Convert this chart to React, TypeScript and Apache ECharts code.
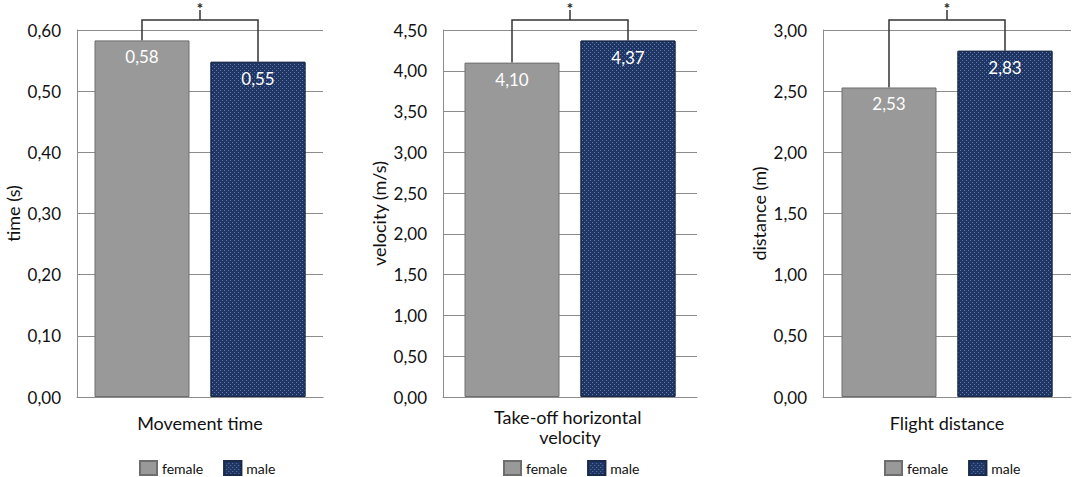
import React, { useEffect, useRef } from "react";
import * as echarts from "echarts";

const categories = ["Movement time", "Take-off horizontal velocity", "Flight distance"];
const axisNames = ["time (s)", "velocity (m/s)", "distance (m)"];
const femaleValues = [0.583, 4.1, 2.53];
const maleValues = [0.548, 4.37, 2.83];
const yMax = [0.6, 4.5, 3.0];
const yInterval = [0.1, 0.5, 0.5];
const significance = ["*", "*", "*"];

const FONT = "Lato";
const gridLefts = [77, 443, 823];
const gridWidths = [246, 254, 248];
const legendLefts = [139, 503, 884];
const catMargins = [16, 10, 16];
const BAR_W = 95;
const BAR_GAP = 21;

const fmt = (v: number) => v.toFixed(2).replace(".", ",");

export default function App() {
  const ref = useRef<HTMLDivElement>(null);
  useEffect(() => {
    const chart = echarts.init(ref.current!, undefined, { renderer: "svg" });
    const grids: any[] = [];
    const xAxes: any[] = [];
    const yAxes: any[] = [];
    const series: any[] = [];
    const legends: any[] = [];
    for (let i = 0; i < 3; i++) {
      grids.push({ left: gridLefts[i], width: gridWidths[i], top: 30, height: 367 });
      xAxes.push({
        type: "category",
        gridIndex: i,
        data: [categories[i]],
        axisLine: { lineStyle: { color: "#8c8c8c", width: 1 } },
        axisTick: { show: false },
        axisLabel: {
          fontFamily: FONT,
          fontSize: 18,
          color: "#111",
          margin: catMargins[i],
          width: 180,
          overflow: "break",
          lineHeight: 20,
        },
      });
      yAxes.push({
        type: "value",
        gridIndex: i,
        min: 0,
        max: yMax[i],
        interval: yInterval[i],
        name: axisNames[i],
        nameLocation: "middle",
        nameRotate: 90,
        nameGap: 55,
        nameTextStyle: { fontFamily: FONT, fontSize: 18, color: "#111" },
        axisLine: { show: true, lineStyle: { color: "#8c8c8c", width: 1 } },
        axisTick: { show: false },
        splitLine: { lineStyle: { color: "#8c8c8c", width: 1 } },
        axisLabel: {
          fontFamily: FONT,
          fontSize: 17,
          color: "#111",
          margin: 16,
          formatter: (v: number) => fmt(v),
        },
      });
      const label = {
        show: true,
        position: "insideTop",
        distance: 8,
        color: "#fff",
        fontFamily: FONT,
        fontSize: 17,
        formatter: (p: any) => fmt(p.value),
      };
      series.push({
        name: "female",
        type: "bar",
        xAxisIndex: i,
        yAxisIndex: i,
        data: [femaleValues[i]],
        barWidth: BAR_W,
        barGap: ((BAR_GAP / BAR_W) * 100).toFixed(1) + "%",
        itemStyle: { color: "#999999", borderColor: "#6e6e6e", borderWidth: 1 },
        label,
      });
      series.push({
        name: "male",
        type: "bar",
        xAxisIndex: i,
        yAxisIndex: i,
        data: [maleValues[i]],
        barWidth: BAR_W,
        itemStyle: {
          color: "#1f3664",
          borderColor: "#1a2a4a",
          borderWidth: 1,
          decal: {
            symbol: "rect",
            symbolSize: 1,
            color: "rgba(150,175,225,0.55)",
            dashArrayX: [[1, 3], [0, 2, 1, 1]],
            dashArrayY: [1, 1],
            rotation: 0,
          },
        },
        label,
      });
      series.push({
        name: "bracket" + i,
        type: "custom",
        xAxisIndex: i,
        yAxisIndex: i,
        clip: false,
        silent: true,
        data: [[0, femaleValues[i], maleValues[i]]],
        renderItem: (params: any, api: any) => {
          const cx = api.coord([0, 0])[0];
          const off = (BAR_W + BAR_GAP) / 2;
          const lx = cx - off;
          const rx = cx + off;
          const yf = api.coord([0, api.value(1)])[1];
          const ym = api.coord([0, api.value(2)])[1];
          const top = params.coordSys.y - 10;
          const ls = { stroke: "#333", lineWidth: 1.5, fill: null };
          return {
            type: "group",
            children: [
              {
                type: "polyline",
                shape: { points: [[lx, yf], [lx, top], [rx, top], [rx, ym]] },
                style: ls,
              },
              { type: "line", shape: { x1: cx, y1: top, x2: cx, y2: top - 10 }, style: ls },
              {
                type: "text",
                x: cx,
                y: 0,
                style: {
                  text: significance[i],
                  fill: "#222",
                  font: `bold 15px ${FONT}`,
                  textAlign: "center",
                  textVerticalAlign: "top",
                },
              },
            ],
          };
        },
      });
      legends.push({
        left: legendLefts[i],
        top: 460,
        padding: 0,
        data: ["female", "male"],
        itemWidth: 17,
        itemHeight: 14,
        itemGap: 20,
        icon: "rect",
        selectedMode: false,
        textStyle: { fontFamily: FONT, fontSize: 14, color: "#111" },
      });
    }
    chart.setOption({
      animation: false,
      backgroundColor: "#fff",
      grid: grids,
      xAxis: xAxes,
      yAxis: yAxes,
      legend: legends,
      series,
    });
    return () => chart.dispose();
  }, []);
  return (
    <div
      ref={ref}
      style={{ position: "fixed", left: 0, top: 0, width: 1072, height: 477 }}
    />
  );
}
